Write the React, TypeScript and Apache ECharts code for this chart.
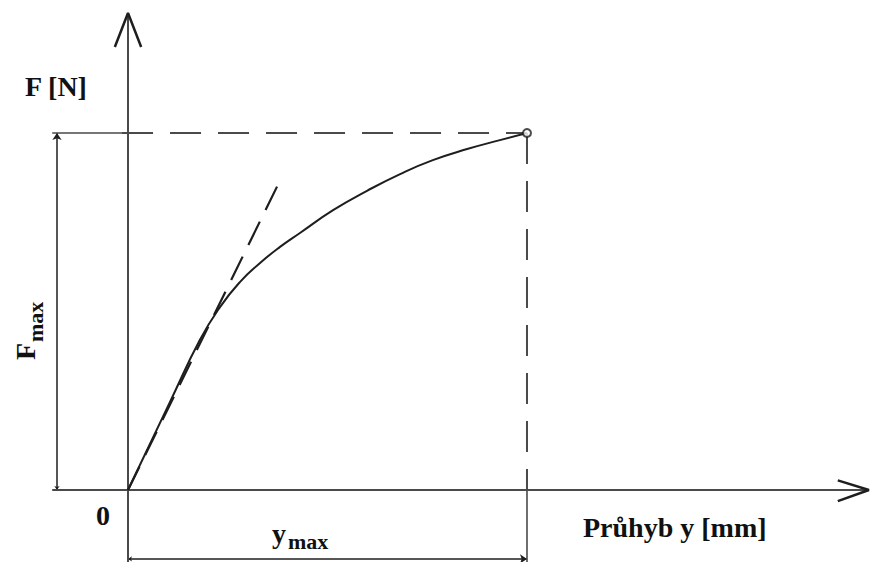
import React, { useEffect, useRef } from "react";
import * as echarts from "echarts";

// Deflection y [mm] (y_max = 10) and force F (F_max = 100) along the measured curve
const curveX = [0, 1.05, 1.8, 2.31, 2.81, 3.31, 3.81, 4.31, 5.14, 5.99, 6.82, 7.64, 8.5, 9.32, 10];
const curveY = [0, 24.6, 42.0, 51.3, 58.3, 63.6, 68.1, 72.0, 78.4, 83.8, 88.5, 92.4, 95.5, 98.0, 100];
// initial tangent (linear part)
const tangentX = [0, 3.78];
const tangentY = [0, 86];
const yMax = 10;
const fMax = 100;
// visible window of the drawing, in data units
const viewX = [-3.208, 18.672];
const viewY = [-20.168, 137.255];
// axis / dimension extents in data units
const axisXRange = [-1.9, 18.57];
const axisYRange = [-20.2, 133.6];
const fDimX = -1.78;
const yDimY = -19.3;

const INK = "#4a4a4a";
const DARK = "#1e1e1e";

export default function App() {
  const ref = useRef<HTMLDivElement>(null);
  useEffect(() => {
    if (!ref.current) return;
    const chart = echarts.init(ref.current, undefined, { renderer: "svg" });
    const line = (data: number[][], color: string, width: number, type: any = "solid", z = 2) => ({
      type: "line",
      data,
      clip: false,
      symbol: "none",
      silent: true,
      z,
      lineStyle: { color, width, type, cap: "butt" },
    });
    const serif = "'Liberation Serif', 'Times New Roman', serif";
    chart.setOption({
      animation: false,
      backgroundColor: "#ffffff",
      grid: { left: 0, top: 0, right: 0, bottom: 0 },
      xAxis: { type: "value", min: viewX[0], max: viewX[1], show: false },
      yAxis: { type: "value", min: viewY[0], max: viewY[1], show: false },
      series: [
        line([[0, axisYRange[0]], [0, axisYRange[1]]], INK, 2),
        line([[axisXRange[0], 0], [axisXRange[1], 0]], INK, 2),
        line([[-0.33, 124.1], [0, axisYRange[1]], [0.33, 124.1]], DARK, 2.5),
        line([[17.79, 2.7], [axisXRange[1], 0], [17.79, -3.1]], DARK, 2.5),
        line([[axisXRange[0], fMax], [0, fMax]], INK, 1.6),
        line([[-0.15, fMax], [yMax, fMax]], INK, 2, [31, 17]),
        line([[yMax, fMax], [yMax, 0]], INK, 2, [31, 17]),
        line([[yMax, 0], [yMax, axisYRange[0]]], INK, 1.6),
        line(tangentX.map((x, i) => [x, tangentY[i]]), DARK, 2.2, [26, 13]),
        {
          type: "line",
          data: curveX.map((x, i) => [x, curveY[i]]),
          smooth: 0.5,
          clip: false,
          symbol: "none",
          z: 3,
          lineStyle: { color: DARK, width: 2 },
        },
        {
          type: "lines",
          coordinateSystem: "cartesian2d",
          clip: false,
          symbol: ["arrow", "arrow"],
          symbolSize: [4, 7],
          lineStyle: { color: DARK, width: 1.5, opacity: 1 },
          data: [
            { coords: [[fDimX, 0], [fDimX, fMax]] },
            { coords: [[0, yDimY], [yMax, yDimY]] },
          ],
        },
        {
          type: "scatter",
          data: [[yMax, fMax]],
          clip: false,
          symbol: "circle",
          symbolSize: 8,
          z: 5,
          itemStyle: { color: "#ffffff", borderColor: DARK, borderWidth: 2 },
        },
      ],
      graphic: [
        {
          type: "text",
          left: 25,
          top: 72,
          style: { text: "F [N]", font: `bold 28px ${serif}`, fill: "#111" },
        },
        {
          type: "text",
          x: 103,
          y: 515,
          style: { text: "0", font: `bold 28px ${serif}`, fill: "#111", align: "center", verticalAlign: "middle" },
        },
        {
          type: "text",
          x: 583,
          y: 527.5,
          style: { text: "Průhyb y [mm]", font: `bold 28px ${serif}`, fill: "#111", verticalAlign: "middle" },
        },
        {
          type: "text",
          x: 272,
          y: 533.7,
          style: { text: "y", font: `bold 28px ${serif}`, fill: "#111", verticalAlign: "middle" },
        },
        {
          type: "text",
          x: 288,
          y: 541,
          style: { text: "max", font: `bold 22px ${serif}`, fill: "#111", verticalAlign: "middle" },
        },
        {
          type: "group",
          x: 35,
          y: 360,
          rotation: Math.PI / 2,
          children: [
            {
              type: "text",
              x: 0,
              y: -9.3,
              style: { text: "F", font: `bold 28px ${serif}`, fill: "#111", verticalAlign: "middle" },
            },
            {
              type: "text",
              x: 18,
              y: 0.7,
              style: { text: "max", font: `bold 22px ${serif}`, fill: "#111", verticalAlign: "middle" },
            },
          ],
        },
      ],
    });
    return () => chart.dispose();
  }, []);
  return (
    <div
      ref={ref}
      style={{ position: "fixed", left: 0, top: 0, width: 873, height: 562, background: "#fff" }}
    />
  );
}
